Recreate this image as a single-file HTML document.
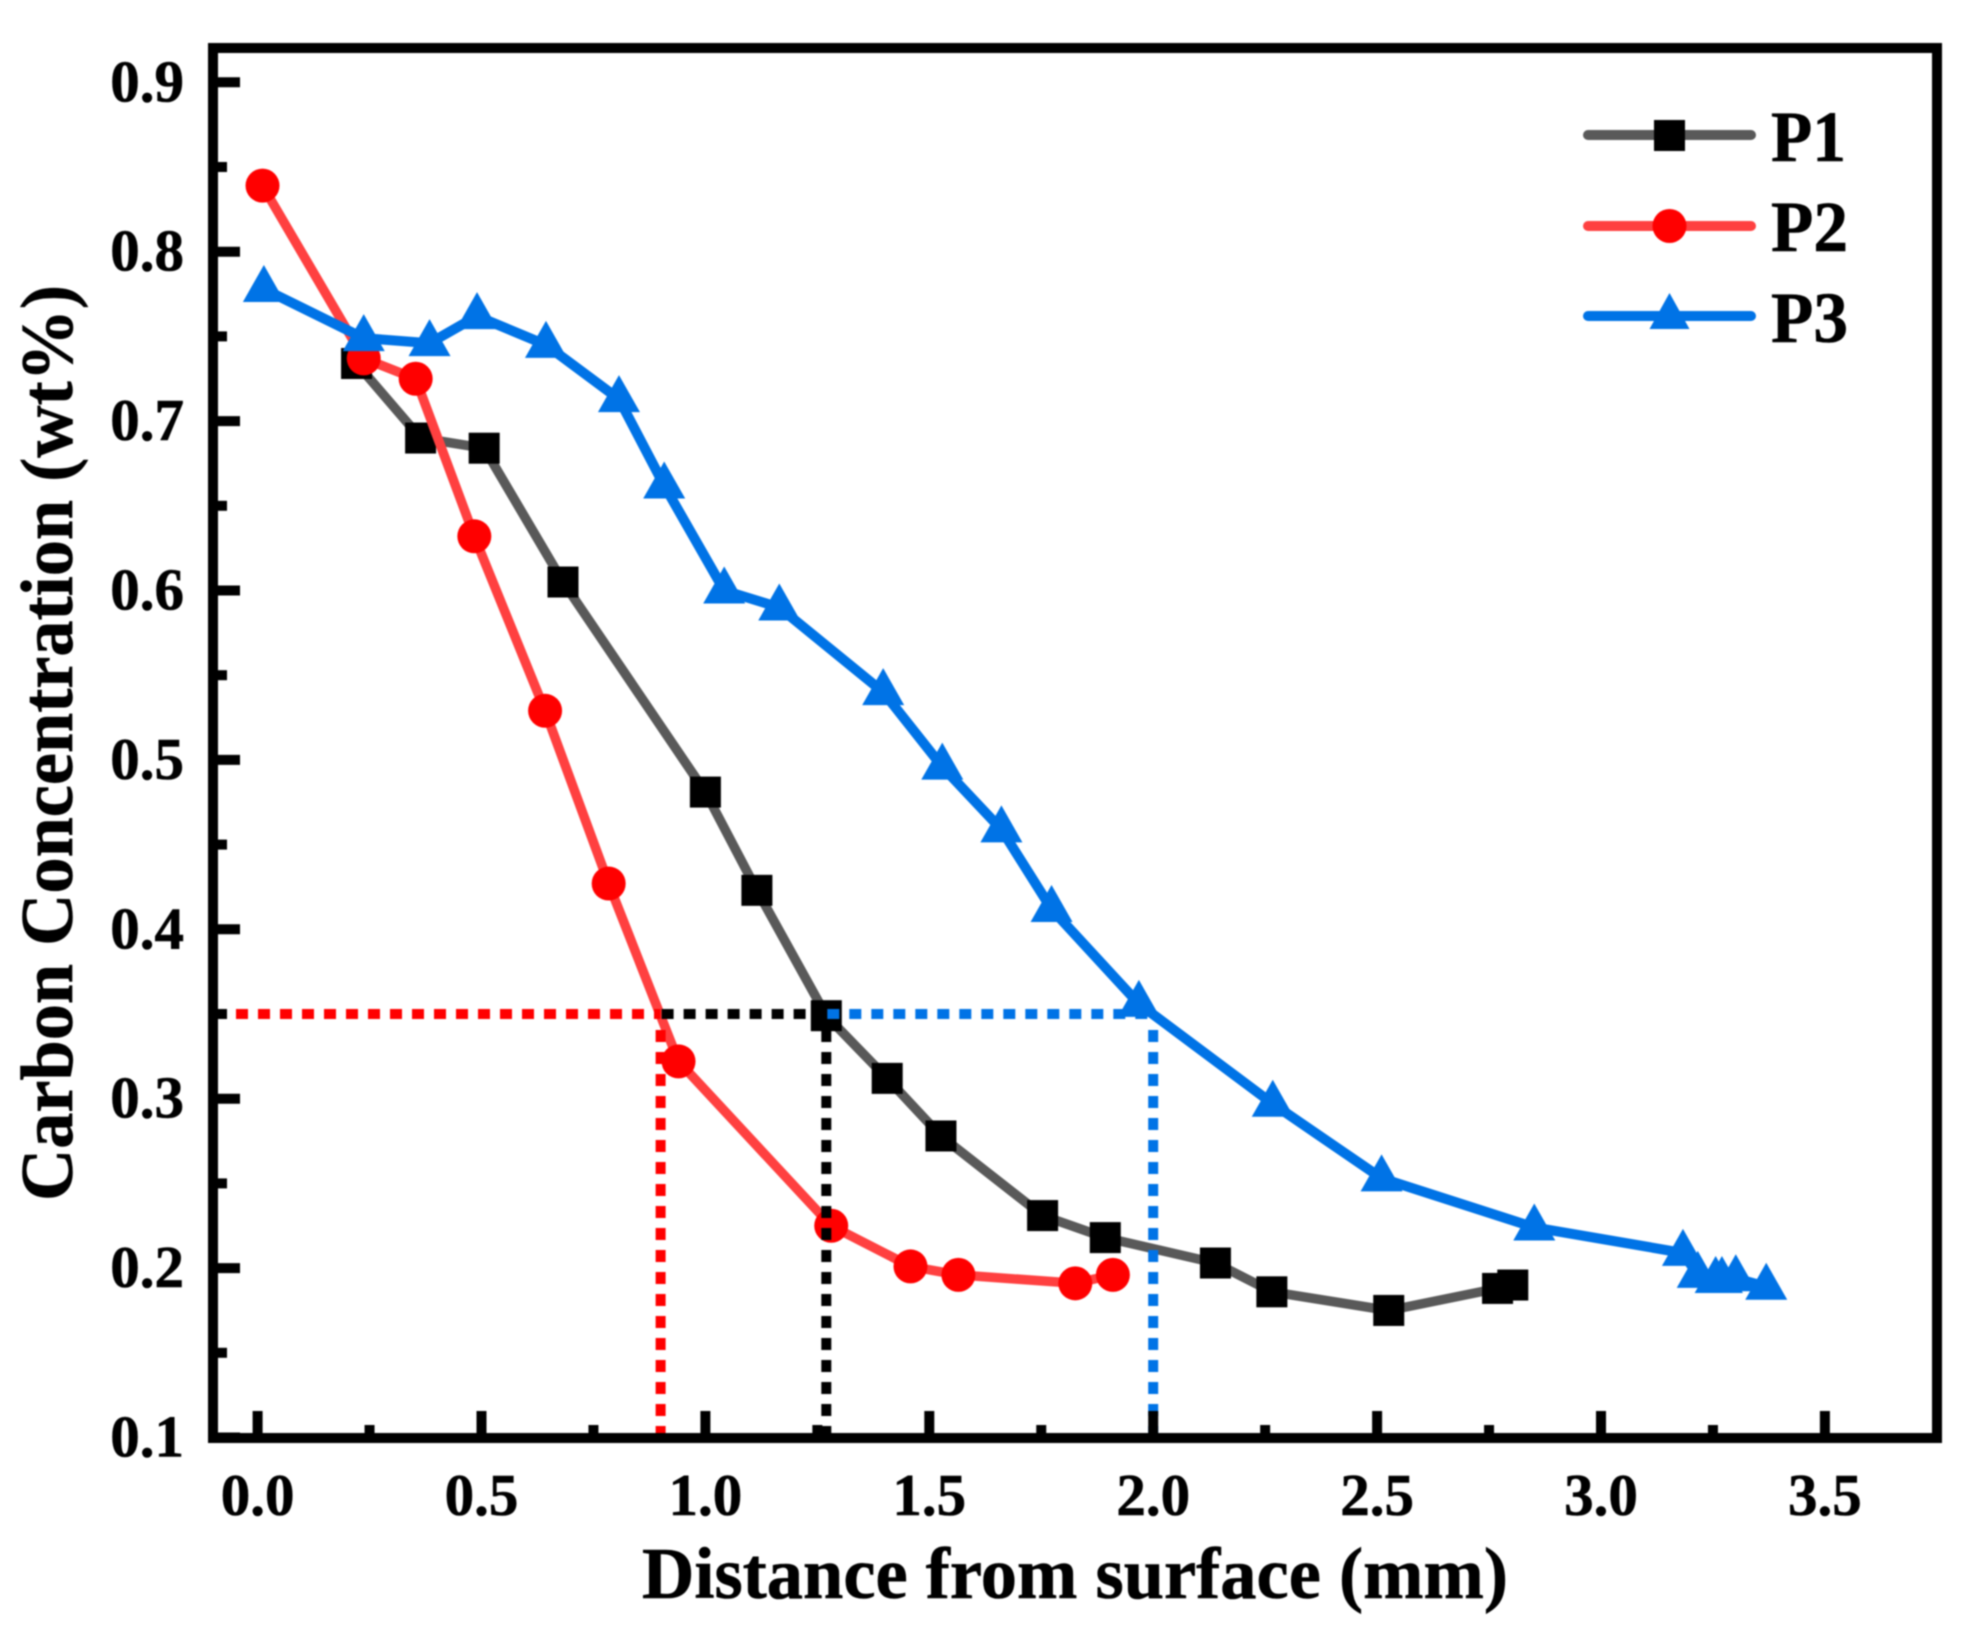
<!DOCTYPE html>
<html>
<head>
<meta charset="utf-8">
<title>Carbon Concentration vs Distance from Surface</title>
<style>
html,body{margin:0;padding:0;background:#fff;width:1964px;height:1630px;overflow:hidden}
svg{display:block;filter:blur(0.9px)}
text{font-family:"Liberation Serif",serif;font-weight:bold;fill:#000;stroke:#000;stroke-width:0.6px}
</style>
</head>
<body>
<svg id="chart" xmlns="http://www.w3.org/2000/svg" width="1964" height="1630" viewBox="0 0 1964 1630">
  <rect x="0" y="0" width="1964" height="1630" fill="#fff"/>
  <g id="series-layer"></g>
  <g id="guide-layer"></g>
  <g id="axis-layer"></g>
  <text x="642" y="1598" font-size="73" textLength="866" lengthAdjust="spacingAndGlyphs">Distance from surface (mm)</text>
  <text transform="translate(72,1201) rotate(-90)" font-size="74" textLength="916" lengthAdjust="spacingAndGlyphs">Carbon Concentration (wt%)</text>
  <g>
    <g>
      <line x1="1588" y1="135" x2="1751" y2="135" stroke="#595959" stroke-width="10" stroke-linecap="round"/>
      <rect x="1654" y="120" width="31" height="31" fill="#000"/>
      <text x="1771" y="161" font-size="72" textLength="75" lengthAdjust="spacingAndGlyphs">P1</text>
    </g>
    <g>
      <line x1="1588" y1="226" x2="1751" y2="226" stroke="#ff4040" stroke-width="10" stroke-linecap="round"/>
      <circle cx="1669.5" cy="226" r="17" fill="#ff0000"/>
      <text x="1771" y="251" font-size="72" textLength="77" lengthAdjust="spacingAndGlyphs">P2</text>
    </g>
    <g>
      <line x1="1588" y1="316" x2="1751" y2="316" stroke="#0073e6" stroke-width="10" stroke-linecap="round"/>
      <polygon points="1669.5,293 1689.5,329 1649.5,329" fill="#0073e6"/>
      <text x="1771" y="342" font-size="72" textLength="77" lengthAdjust="spacingAndGlyphs">P3</text>
    </g>
  </g>
</svg>
<script>
// ---- chart data ----
var p1X = [0.221,0.364,0.506,0.682,1.000,1.115,1.270,1.406,1.526,1.753,1.893,2.139,2.265,2.526,2.769,2.803];
var p1Y = [0.734,0.690,0.684,0.605,0.481,0.423,0.349,0.312,0.278,0.231,0.218,0.203,0.186,0.175,0.188,0.190];
var p2X = [0.011,0.237,0.353,0.484,0.642,0.784,0.940,1.281,1.458,1.565,1.826,1.910];
var p2Y = [0.839,0.737,0.725,0.632,0.529,0.427,0.322,0.225,0.201,0.196,0.191,0.196];
var p3X = [0.014,0.237,0.384,0.490,0.644,0.807,0.908,1.042,1.165,1.397,1.529,1.661,1.773,1.968,2.267,2.510,2.851,3.183,3.216,3.256,3.270,3.301,3.369];
var p3Y = [0.778,0.749,0.746,0.762,0.745,0.713,0.662,0.600,0.590,0.540,0.496,0.459,0.412,0.356,0.297,0.253,0.224,0.209,0.196,0.193,0.193,0.194,0.189];
var xMajorTicks = [0.0,0.5,1.0,1.5,2.0,2.5,3.0,3.5];
var xMajorLabels = ['0.0','0.5','1.0','1.5','2.0','2.5','3.0','3.5'];
var xMinorTicks = [0.25,0.75,1.25,1.75,2.25,2.75,3.25];
var yMajorTicks = [0.1,0.2,0.3,0.4,0.5,0.6,0.7,0.8,0.9];
var yMajorLabels = ['0.1','0.2','0.3','0.4','0.5','0.6','0.7','0.8','0.9'];
var yMinorTicks = [0.15,0.25,0.35,0.45,0.55,0.65,0.75,0.85];
var thresholdY = 0.35;
var guideP2X = 0.9;
var guideP1X = 1.27;
var guideP3X = 2.0;

// ---- axis functions ----
function sx(v){ return 257.6 + 447.8 * v; }
function sy(v){ return 1437.5 - 1694 * (v - 0.1); }

var NS = 'http://www.w3.org/2000/svg';
function mk(tag, attrs, parent){
  var el = document.createElementNS(NS, tag);
  for (var k in attrs) el.setAttribute(k, attrs[k]);
  parent.appendChild(el);
  return el;
}
var seriesLayer = document.getElementById('series-layer');
var guideLayer = document.getElementById('guide-layer');
var axisLayer = document.getElementById('axis-layer');

function polyPoints(xs, ys){
  var pts = [];
  for (var i = 0; i < xs.length; i++) pts.push(sx(xs[i]).toFixed(1) + ',' + sy(ys[i]).toFixed(1));
  return pts.join(' ');
}

// ---- P1 series ----
var p1Group = mk('g', {}, seriesLayer);


var p1Line = mk('polyline', {points: polyPoints(p1X, p1Y), fill:'none', stroke:'#595959', 'stroke-width':9.5, 'stroke-linejoin':'round'}, p1Group);


p1X.forEach(function(v, i){
  var cx = sx(v), cy = sy(p1Y[i]);
  var m = mk('rect', {x: cx - 15.5, y: cy - 15.5, width: 31, height: 31, fill:'#000'}, p1Group);
  
  
});

// ---- P2 series ----
var p2Group = mk('g', {}, seriesLayer);


var p2Line = mk('polyline', {points: polyPoints(p2X, p2Y), fill:'none', stroke:'#ff4040', 'stroke-width':9.5, 'stroke-linejoin':'round'}, p2Group);


p2X.forEach(function(v, i){
  var m = mk('circle', {cx: sx(v), cy: sy(p2Y[i]), r: 17, fill:'#ff0000'}, p2Group);
  
  
});

// ---- P3 series ----
var p3Group = mk('g', {}, seriesLayer);


var p3Line = mk('polyline', {points: polyPoints(p3X, p3Y), fill:'none', stroke:'#0073e6', 'stroke-width':10, 'stroke-linejoin':'round'}, p3Group);


p3X.forEach(function(v, i){
  var cx = sx(v), cy = sy(p3Y[i]);
  var pts = cx + ',' + (cy - 24) + ' ' + (cx + 21) + ',' + (cy + 13) + ' ' + (cx - 21) + ',' + (cy + 13);
  var m = mk('polygon', {points: pts, fill:'#0073e6'}, p3Group);
  
  
});

// ---- dotted guide lines ----
function guide(x1, y1, x2, y2, color){
  return mk('line', {x1:x1, y1:y1, x2:x2, y2:y2, stroke:color, 'stroke-width':10, 'stroke-dasharray':'12 10'}, guideLayer);
}
var gy = sy(thresholdY);
var g1 = guide(214, gy, sx(guideP2X), gy, '#ff0000');


var g2 = guide(sx(guideP2X) + 1, gy, sx(guideP1X) - 6, gy, '#000000');


var g3 = guide(sx(guideP1X) + 1, gy, sx(guideP3X), gy, '#0073e6');


var g4 = guide(sx(guideP2X), gy + 16, sx(guideP2X), 1438, '#ff0000');


var g5 = guide(sx(guideP1X), gy + 16, sx(guideP1X), 1438, '#000000');


var g6 = guide(sx(guideP3X), gy + 16, sx(guideP3X), 1438, '#0073e6');



// ---- frame and ticks ----
var frame = mk('rect', {x:213, y:48, width:1724, height:1390, fill:'none', stroke:'#000', 'stroke-width':10}, axisLayer);



xMajorTicks.forEach(function(v, i){
  var t = mk('line', {x1:sx(v), y1:1434, x2:sx(v), y2:1411, stroke:'#000', 'stroke-width':10}, axisLayer);
  
  
  var l = mk('text', {x:sx(v), y:1515, 'font-size':59, 'text-anchor':'middle'}, axisLayer);
  l.textContent = xMajorLabels[i];
  
  
});
xMinorTicks.forEach(function(v){
  var t = mk('line', {x1:sx(v), y1:1434, x2:sx(v), y2:1425, stroke:'#000', 'stroke-width':10}, axisLayer);
  
  
});
yMajorTicks.forEach(function(v, i){
  var t = mk('line', {x1:217, y1:sy(v), x2:240, y2:sy(v), stroke:'#000', 'stroke-width':10}, axisLayer);
  
  
  var l = mk('text', {x:184, y:sy(v) + 19, 'font-size':59, 'text-anchor':'end'}, axisLayer);
  l.textContent = yMajorLabels[i];
  
  
});
yMinorTicks.forEach(function(v){
  var t = mk('line', {x1:217, y1:sy(v), x2:227, y2:sy(v), stroke:'#000', 'stroke-width':10}, axisLayer);
  
  
});
</script>
</body>
</html>
